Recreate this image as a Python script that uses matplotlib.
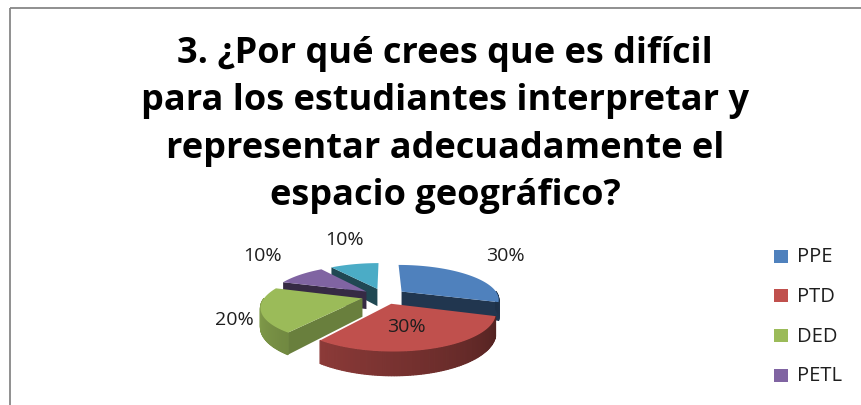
import numpy as np
import matplotlib
matplotlib.use("Agg")
import matplotlib.pyplot as plt
from matplotlib.patches import Polygon, Rectangle
from matplotlib.colors import to_rgb

# ---------------- data ----------------
categories = ["PPE", "PTD", "DED", "PETL", "Otro"]
values = [30, 30, 20, 10, 10]
value_labels = ["30%", "30%", "20%", "10%", "10%"]
legend_categories = ["PPE", "PTD", "DED", "PETL"]
title_lines = ["3. ¿Por qué crees que es difícil",
               "para los estudiantes interpretar y",
               "representar adecuadamente el",
               "espacio geográfico?"]

# ---------------- style / layout ----------------
colors = ["#4F81BD", "#C0504D", "#9BBB59", "#8064A2", "#4BACC6"]
W, H = 862, 406
CX, CY = 384, 297          # pie centre (pixels)
RX, RY = 97, 33.9          # radii
P = 0.21                   # perspective strength
DEPTH = 18                 # thickness (pixels)
EXPLODE = 0.23             # explode distance (fraction of radius)
label_dist = [1.0, 1.0, 1.05, 1.0, 0.86]
label_in = [False, True, False, False, False]
FONT = "Open Sans"

fig = plt.figure(figsize=(W / 100, H / 100), dpi=100)
ax = fig.add_axes([0, 0, 1, 1])
ax.set_xlim(0, W)
ax.set_ylim(H, 0)
ax.axis("off")


def proj(a, b, z=0.0):
    k = 1.0 / (1.0 + P * b)
    return CX + RX * a * k, CY - RY * b * k + z * k


def shade(c, f):
    r, g, b = to_rgb(c)
    return (r * f, g * f, b * f)


total = float(sum(values))
wedges = []
start = 90.0
for i, v in enumerate(values):
    span = v / total * 360.0
    a2 = start
    a1 = start - span
    start = a1
    mid = np.radians((a1 + a2) / 2)
    ox, oy = EXPLODE * np.cos(mid), EXPLODE * np.sin(mid)
    wedges.append((i, a1, a2, ox, oy))

# painter's order: back first
order = sorted(wedges, key=lambda w: -w[4])

for (i, a1, a2, ox, oy) in order:
    col = colors[i]
    ts = np.radians(np.linspace(a1, a2, 90))

    def rim(t, z):
        return proj(ox + np.cos(t), oy + np.sin(t), z)

    apex_top = proj(ox, oy, 0)
    apex_bot = proj(ox, oy, DEPTH)

    # radial walls
    for ang, normal in ((a1, a1 - 90), (a2, a2 + 90)):
        if np.sin(np.radians(normal)) < -1e-6:
            t = np.radians(ang)
            f = 0.42 if i != 2 else 0.68
            quad = [apex_top, rim(t, 0), rim(t, DEPTH), apex_bot]
            ax.add_patch(Polygon(quad, closed=True, facecolor=shade(col, f),
                                 edgecolor="none", zorder=2))

    # outer curved side
    for j in range(len(ts) - 1):
        t0, t1 = ts[j], ts[j + 1]
        tm = (t0 + t1) / 2
        if np.sin(tm) < 0:
            deg = np.degrees(tm) % 360
            f = 0.88 - 0.5 * (deg - 180) / 180
            quad = [rim(t0, 0), rim(t1, 0), rim(t1, DEPTH), rim(t0, DEPTH)]
            ax.add_patch(Polygon(quad, closed=True, facecolor=shade(col, f),
                                 edgecolor=shade(col, f), lw=0.9,
                                 joinstyle="miter", zorder=2))

    # top face
    pts = [apex_top] + [rim(t, 0) for t in ts]
    ax.add_patch(Polygon(pts, closed=True, facecolor=col,
                         edgecolor="none", zorder=3))

# value labels
for (i, a1, a2, ox, oy) in wedges:
    mid = np.radians((a1 + a2) / 2)
    if label_in[i]:
        lx = CX + 74 * label_dist[i] * np.cos(mid)
        ly = CY - 32 * label_dist[i] * np.sin(mid)
    else:
        lx = CX + 150 * label_dist[i] * np.cos(mid)
        ly = CY - 70 * label_dist[i] * np.sin(mid)
    ax.text(lx, ly, value_labels[i], ha="center", va="center",
            fontsize=14, family=FONT, color="#1e1e1e", zorder=5)

# title, one line per baseline
for r, line in enumerate(title_lines):
    ax.text(445, 63 + r * 47.3, line, ha="center", va="baseline",
            fontsize=26, family=FONT, fontweight="bold", color="black",
            zorder=5)

# legend
for r, name in enumerate(legend_categories):
    yy = 257 + r * 39.8
    ax.add_patch(Rectangle((774, yy - 6.5), 14, 13, facecolor=colors[r],
                           edgecolor="none", zorder=5))
    ax.text(797, yy, name, ha="left", va="center", fontsize=14.5,
            family=FONT, color="#1e1e1e", zorder=5)

# chart frame
ax.add_patch(Rectangle((10, 9), 1000, 600, facecolor="none",
                       edgecolor="#878787", lw=1.3, zorder=6))

fig.savefig("out.png", dpi=100)
